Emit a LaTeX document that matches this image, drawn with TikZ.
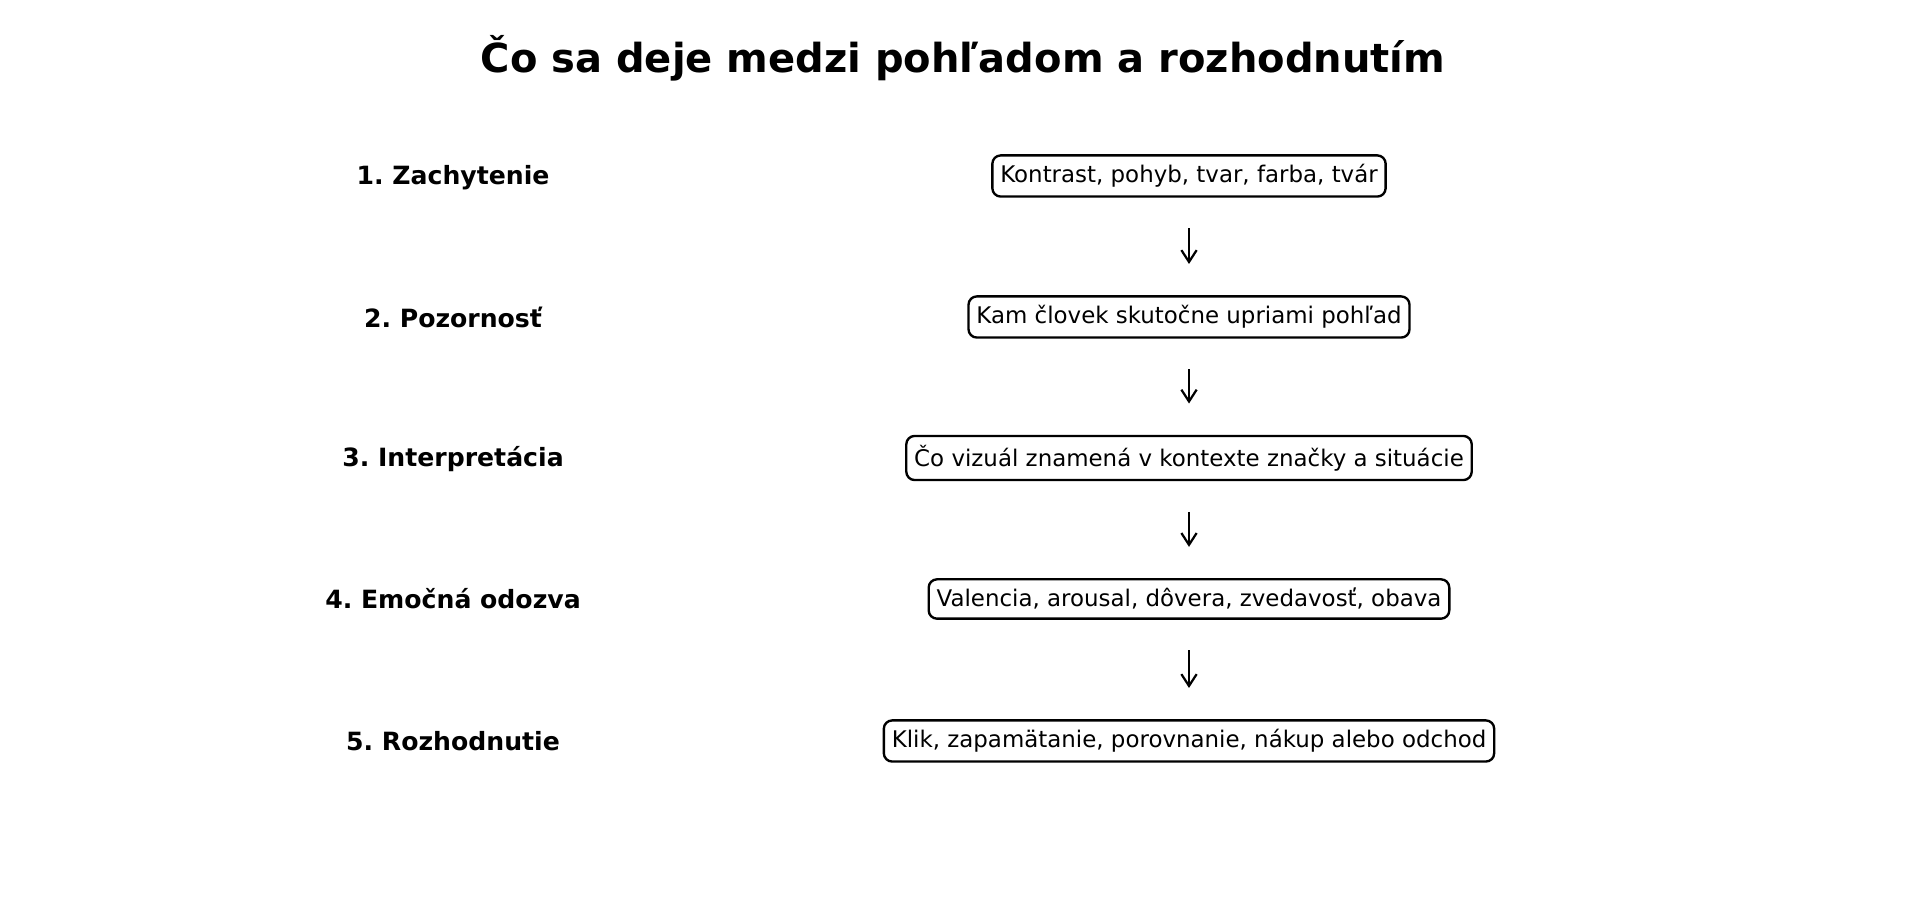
\documentclass[tikz,border=0pt]{standalone}
\usepackage{fontspec}
\setmainfont{DejaVu Sans}
\usetikzlibrary{arrows.meta}
\frenchspacing

\tikzset{
  krok/.style={font=\fontsize{18.1}{22}\selectfont\bfseries, anchor=center},
  popis/.style={draw, line width=1.7pt, rounded corners=6pt, inner xsep=5.7pt, inner ysep=6.5pt,
    font=\fontsize{16.5}{20}\selectfont},
  sipka/.style={-{Straight Barb[length=8.5pt,width=11pt,line width=1.6pt]}, line width=1.7pt,
    shorten <=22pt, shorten >=22.5pt}
}

\begin{document}
\begin{tikzpicture}[x=0.72pt, y=0.72pt]
    \useasboundingbox (0,0) rectangle (1926,917);

    % Nadpis
    \node[font=\fontsize{28.8}{34}\selectfont\bfseries] (nadpis) at (963,859) {Čo sa deje medzi pohľadom a rozhodnutím};

    % Kroky vľavo
    \node[krok] (k1) at (453,739) {1. Zachytenie};
    \node[krok] (k2) at (453,600) {2. Pozornosť};
    \node[krok] (k3) at (453,458) {3. Interpretácia};
    \node[krok] (k4) at (453,318) {4. Emočná odozva};
    \node[krok] (k5) at (453,176) {5. Rozhodnutie};

    % Popisy vpravo
    \node[popis] (p1) at (1189,741) {Kontrast, pohyb, tvar, farba, tvár};
    \node[popis] (p2) at (1189,600) {Kam človek skutočne upriami pohľad};
    \node[popis] (p3) at (1189,459) {Čo vizuál znamená v kontexte značky a situácie};
    \node[popis] (p4) at (1189,318) {Valencia, arousal, dôvera, zvedavosť, obava};
    \node[popis] (p5) at (1189,176) {Klik, zapamätanie, porovnanie, nákup alebo odchod};

    % Šípky medzi popismi
    \draw[sipka] (p1) -- (p2);
    \draw[sipka] (p2) -- (p3);
    \draw[sipka] (p3) -- (p4);
    \draw[sipka] (p4) -- (p5);
\end{tikzpicture}
\end{document}
